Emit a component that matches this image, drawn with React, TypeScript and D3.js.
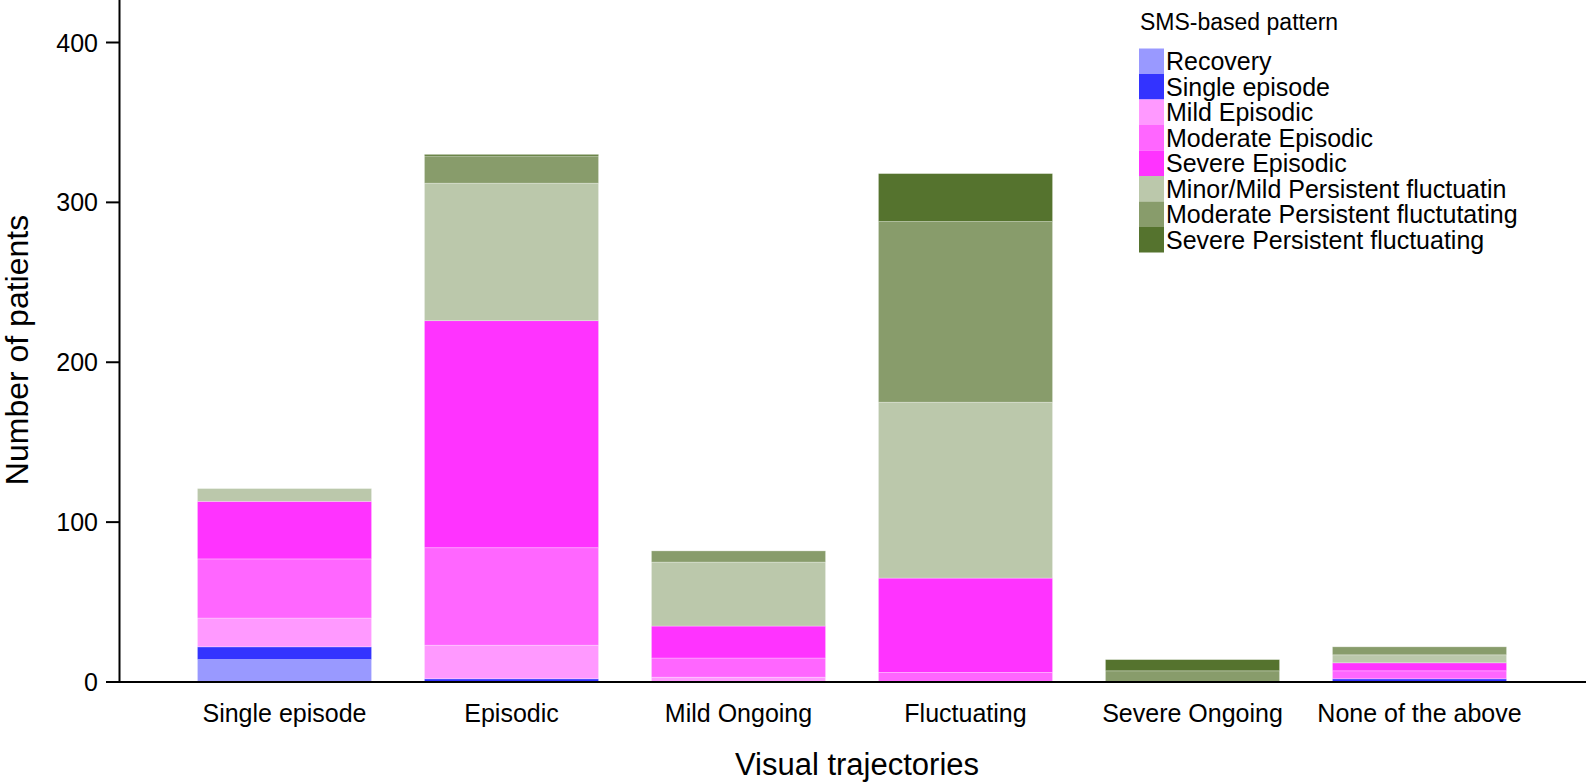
import React from "react";
import * as d3 from "d3";

const categories = ["Single episode", "Episodic", "Mild Ongoing", "Fluctuating", "Severe Ongoing", "None of the above"];
const seriesNames = [
  "Recovery",
  "Single episode",
  "Mild Episodic",
  "Moderate Episodic",
  "Severe Episodic",
  "Minor/Mild Persistent fluctuatin",
  "Moderate Persistent fluctutating",
  "Severe Persistent fluctuating",
];
const seriesColors = ["#9999ff", "#3333ff", "#ff99ff", "#ff66ff", "#ff33ff", "#bbc8ab", "#889c6b", "#55732e"];

const recovery = [14, 0, 0, 0, 0, 0];
const singleEpisode = [8, 2, 0, 0, 0, 2];
const mildEpisodic = [18, 21, 3, 0, 0, 0];
const moderateEpisodic = [37, 61, 12, 6, 0, 5];
const severeEpisodic = [36, 142, 20, 59, 0, 5];
const minorPersistent = [8, 86, 40, 110, 0, 5];
const moderatePersistent = [0, 17, 7, 113, 7, 5];
const severePersistent = [0, 1, 0, 30, 7, 0];

const yTicks = [0, 100, 200, 300, 400];

const W = 1586;
const H = 782;
const FONT = "'Liberation Sans', Arial, sans-serif";

export default function App() {
  const seriesValues = [
    recovery,
    singleEpisode,
    mildEpisodic,
    moderateEpisodic,
    severeEpisodic,
    minorPersistent,
    moderatePersistent,
    severePersistent,
  ];
  const rows = categories.map((c, i) => {
    const r: any = { category: c };
    seriesNames.forEach((s, j) => (r[s] = seriesValues[j][i]));
    return r;
  });
  const stacked = d3.stack().keys(seriesNames)(rows);

  const x = d3.scaleBand().domain(categories).range([171, 1533]).paddingInner(0.233).paddingOuter(0.1165);
  const y = d3.scaleLinear().domain([0, 400]).range([682, 42.5]);

  const axisX = 119.5;
  const baseY = y(0);

  const legendX = 1139;
  const legendY0 = 48.5;
  const legendRow = 25.5;

  return (
    <svg width={W} height={H} style={{ position: "absolute", left: 0, top: 0, background: "#fff" }}>
      <rect x={0} y={0} width={W} height={H} fill="#fff" />
      {stacked.map((layer, j) => (
        <g key={seriesNames[j]} fill={seriesColors[j]}>
          {layer.map((d, i) =>
            d[1] - d[0] > 0 ? (
              <rect
                key={i}
                x={x(categories[i])}
                y={y(d[1])}
                width={x.bandwidth()}
                height={y(d[0]) - y(d[1])}
                stroke="#ffffff"
                strokeOpacity={0.35}
                strokeWidth={0.8}
              />
            ) : null
          )}
        </g>
      ))}
      {/* axes */}
      <line x1={axisX} x2={axisX} y1={0} y2={baseY + 1} stroke="#000" strokeWidth={2} />
      <line x1={106} x2={W} y1={baseY} y2={baseY} stroke="#000" strokeWidth={2} />
      {yTicks.map((t) => (
        <g key={t}>
          <line x1={106} x2={axisX} y1={y(t)} y2={y(t)} stroke="#000" strokeWidth={2} />
          <text
            x={98}
            y={y(t)}
            textAnchor="end"
            dominantBaseline="central"
            fontFamily={FONT}
            fontSize={25}
            fill="#000"
          >
            {t}
          </text>
        </g>
      ))}
      {categories.map((c) => (
        <text
          key={c}
          x={(x(c) as number) + x.bandwidth() / 2}
          y={713}
          textAnchor="middle"
          dominantBaseline="central"
          fontFamily={FONT}
          fontSize={25}
          fill="#000"
        >
          {c}
        </text>
      ))}
      <text x={857} y={764} textAnchor="middle" dominantBaseline="central" fontFamily={FONT} fontSize={31} fill="#000">
        Visual trajectories
      </text>
      <text
        transform={`translate(17,350) rotate(-90)`}
        textAnchor="middle"
        dominantBaseline="central"
        fontFamily={FONT}
        fontSize={32}
        fill="#000"
      >
        Number of patients
      </text>
      {/* legend */}
      <text x={1140} y={22} dominantBaseline="central" fontFamily={FONT} fontSize={23} fill="#000">
        SMS-based pattern
      </text>
      {seriesNames.map((s, j) => (
        <g key={s}>
          <rect x={legendX} y={legendY0 + j * legendRow} width={25} height={legendRow} fill={seriesColors[j]} />
          <text
            x={1166}
            y={legendY0 + (j + 0.5) * legendRow}
            dominantBaseline="central"
            fontFamily={FONT}
            fontSize={25}
            fill="#000"
          >
            {s}
          </text>
        </g>
      ))}
    </svg>
  );
}
